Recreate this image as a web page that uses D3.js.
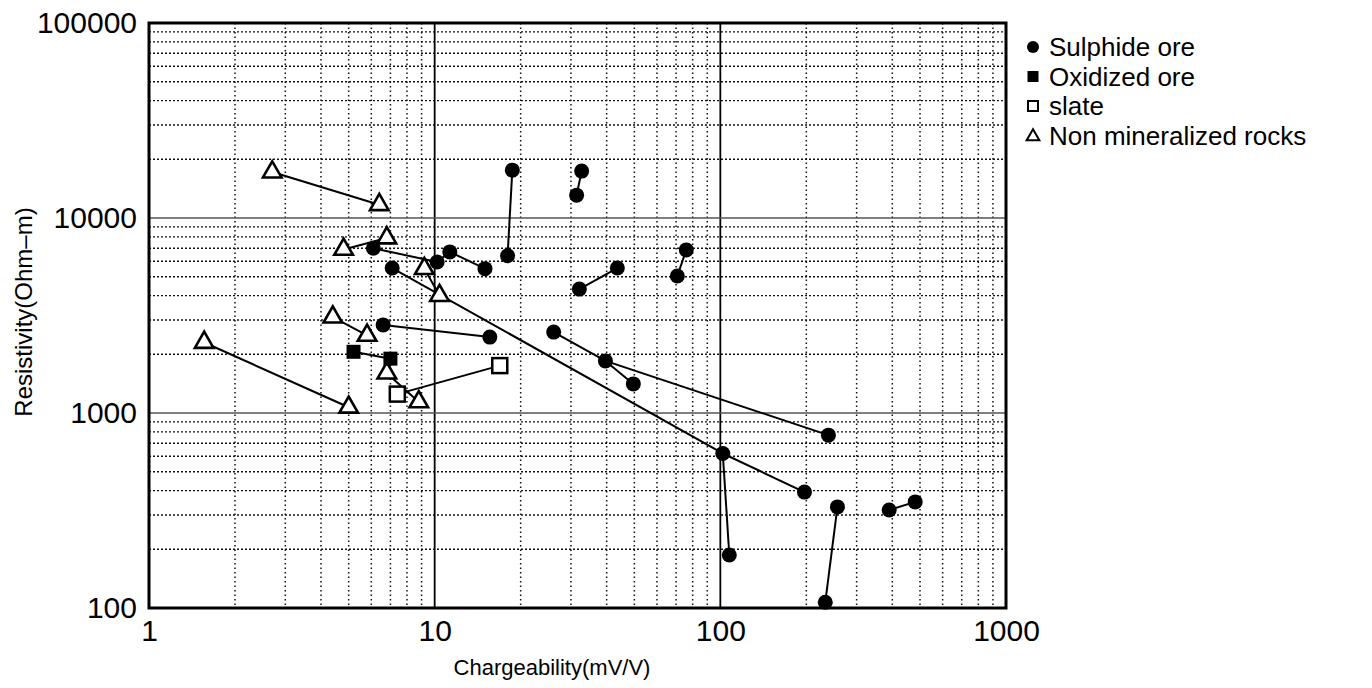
<!DOCTYPE html>
<html><head><meta charset="utf-8">
<script src="https://cdn.jsdelivr.net/npm/d3@7"></script>
<style>body{margin:0;background:#fff}svg{display:block}text{font-family:"Liberation Sans",Arial,sans-serif;fill:#000}</style>
</head><body>
<svg id="chart" width="1372" height="688"></svg>
<script>
// ---- data (Chargeability mV/V, Resistivity Ohm-m) ----
const sulphide = [
  {id:"C1",x:6.1,y:7000},{id:"C2",x:10.2,y:5950},{id:"C3",x:11.3,y:6700},{id:"C4",x:15,y:5500},
  {id:"C5",x:18,y:6400},{id:"C6",x:18.7,y:17600},{id:"C7",x:32.7,y:17400},{id:"C8",x:31.4,y:13100},
  {id:"C9",x:7.1,y:5540},{id:"C10",x:6.6,y:2830},{id:"C11",x:15.6,y:2450},{id:"C12",x:43.6,y:5540},
  {id:"C13",x:32.1,y:4320},{id:"C14",x:76,y:6860},{id:"C15",x:70.7,y:5040},{id:"C16",x:26.1,y:2600},
  {id:"C17",x:39.6,y:1850},{id:"C18",x:49.6,y:1410},{id:"C19",x:239,y:770},{id:"C20",x:102,y:620},
  {id:"C21",x:197,y:393},{id:"C22",x:107.5,y:187},{id:"C23",x:257,y:330},{id:"C24",x:233,y:107},
  {id:"C25",x:390,y:318},{id:"C26",x:481,y:350}
];
const oxidized = [{id:"X1",x:5.2,y:2060},{id:"X2",x:7.0,y:1900}];
const slate = [{id:"O1",x:7.4,y:1250},{id:"O2",x:16.9,y:1750}];
const nonMineralized = [
  {id:"T1",x:2.7,y:17200},{id:"T2",x:6.4,y:11700},{id:"T3",x:4.8,y:6900},{id:"T4",x:6.8,y:7900},
  {id:"T5",x:9.2,y:5500},{id:"T6",x:10.4,y:4000},{id:"T7",x:4.4,y:3100},{id:"T8",x:5.8,y:2500},
  {id:"T9",x:6.8,y:1600},{id:"T10",x:8.8,y:1140},{id:"T11",x:1.56,y:2300},{id:"T12",x:5.0,y:1070}
];
const links = [
  ["T1","T2"],["T3","T4"],["T5","T6"],["T7","T8"],["T9","T10"],["T11","T12"],
  ["O1","O2"],["X1","X2"],
  ["C1","C2"],["C2","C3"],["C3","C4"],["C5","C6"],["C7","C8"],["C9","C20"],["C20","C21"],["C20","C22"],
  ["C10","C11"],["C12","C13"],["C14","C15"],["C16","C17"],["C17","C18"],["C17","C19"],["C23","C24"],["C25","C26"]
];
const xTicks = [1,10,100,1000];
const yTicks = [100,1000,10000,100000];
const legendLabels = ["Sulphide ore","Oxidized ore","slate","Non mineralized rocks"];
const xTitle = "Chargeability(mV/V)";
const yTitle = "Resistivity(Ohm\u2013m)";

// ---- layout ----
const L=149, R=1006, T=23, B=608;
const svg = d3.select("#chart");
const x = d3.scaleLog().domain([1,1000]).range([L,R]);
const y = d3.scaleLog().domain([100,100000]).range([B,T]);

const g = svg.append("g");
// minor grid
const minorX=[], minorY=[];
[1,10,100].forEach(d=>{for(let k=2;k<=9;k++) minorX.push(d*k);});
[100,1000,10000].forEach(d=>{for(let k=2;k<=9;k++) minorY.push(d*k);});
g.selectAll(".mx").data(minorX).join("line")
  .attr("x1",d=>x(d)).attr("x2",d=>x(d)).attr("y1",T).attr("y2",B)
  .attr("stroke","#111").attr("stroke-width",1.5).attr("stroke-dasharray","1.5,3");
g.selectAll(".my").data(minorY).join("line")
  .attr("y1",d=>y(d)).attr("y2",d=>y(d)).attr("x1",L).attr("x2",R)
  .attr("stroke","#111").attr("stroke-width",1.4).attr("stroke-dasharray","2,2");
// major grid
g.selectAll(".Mx").data([10,100]).join("line")
  .attr("x1",d=>x(d)).attr("x2",d=>x(d)).attr("y1",T).attr("y2",B)
  .attr("stroke","#000").attr("stroke-width",1.8);
g.selectAll(".My").data([1000,10000]).join("line")
  .attr("y1",d=>y(d)).attr("y2",d=>y(d)).attr("x1",L).attr("x2",R)
  .attr("stroke","#555").attr("stroke-width",1.5);

// links
const all = {};
[...sulphide,...oxidized,...slate,...nonMineralized].forEach(p=>all[p.id]=p);
g.selectAll(".lk").data(links).join("line")
  .attr("x1",d=>x(all[d[0]].x)).attr("y1",d=>y(all[d[0]].y))
  .attr("x2",d=>x(all[d[1]].x)).attr("y2",d=>y(all[d[1]].y))
  .attr("stroke","#000").attr("stroke-width",2);

// markers
g.selectAll(".tri").data(nonMineralized).join("path")
  .attr("d",d3.symbol(d3.symbolTriangle,150)())
  .attr("transform",d=>`translate(${x(d.x)},${y(d.y)})`)
  .attr("fill","#fff").attr("stroke","#000").attr("stroke-width",2.6);
g.selectAll(".osq").data(slate).join("rect")
  .attr("x",d=>x(d.x)-7.5).attr("y",d=>y(d.y)-7.5).attr("width",15).attr("height",15)
  .attr("fill","#fff").attr("stroke","#000").attr("stroke-width",2.5);
g.selectAll(".fsq").data(oxidized).join("rect")
  .attr("x",d=>x(d.x)-7).attr("y",d=>y(d.y)-7).attr("width",14).attr("height",14)
  .attr("fill","#000");
g.selectAll(".cir").data(sulphide).join("circle")
  .attr("cx",d=>x(d.x)).attr("cy",d=>y(d.y)).attr("r",7.5).attr("fill","#000");

// frame
svg.append("rect").attr("x",L).attr("y",T).attr("width",R-L).attr("height",B-T)
  .attr("fill","none").attr("stroke","#000").attr("stroke-width",3);

// axes
const fmt = d3.format("d");
const xa = svg.append("g").attr("transform",`translate(0,${B})`)
  .call(d3.axisBottom(x).tickValues(xTicks).tickFormat(fmt).tickSize(0).tickPadding(12));
const ya = svg.append("g").attr("transform",`translate(${L},0)`)
  .call(d3.axisLeft(y).tickValues(yTicks).tickFormat(fmt).tickSize(0).tickPadding(12));
[xa,ya].forEach(a=>{a.select(".domain").remove();
  a.selectAll("text").attr("font-size",30).attr("font-family","Liberation Sans, Arial, sans-serif").attr("fill","#000");});

svg.append("text").attr("x",552).attr("y",675).attr("text-anchor","middle")
  .attr("font-size",22).text(xTitle);
svg.append("text").attr("transform","translate(32,312) rotate(-90)").attr("text-anchor","middle")
  .attr("font-size",24).text(yTitle);

// legend
const lg = svg.append("g");
const lx=1033, ly0=56, dy=29.5;
legendLabels.forEach((t,i)=>{
  const cy = ly0 + i*dy - 9;
  if(i===0) lg.append("circle").attr("cx",lx).attr("cy",cy).attr("r",6).attr("fill","#000");
  if(i===1) lg.append("rect").attr("x",lx-5.5).attr("y",cy-5.5).attr("width",11).attr("height",11).attr("fill","#000");
  if(i===2) lg.append("rect").attr("x",lx-5).attr("y",cy-5).attr("width",10).attr("height",10).attr("fill","#fff").attr("stroke","#000").attr("stroke-width",2);
  if(i===3) lg.append("path").attr("d",d3.symbol(d3.symbolTriangle,70)()).attr("transform",`translate(${lx},${cy+1})`).attr("fill","#fff").attr("stroke","#000").attr("stroke-width",2);
  lg.append("text").attr("x",1049).attr("y",ly0+i*dy).attr("font-size",26).text(t);
});
</script>
</body></html>
